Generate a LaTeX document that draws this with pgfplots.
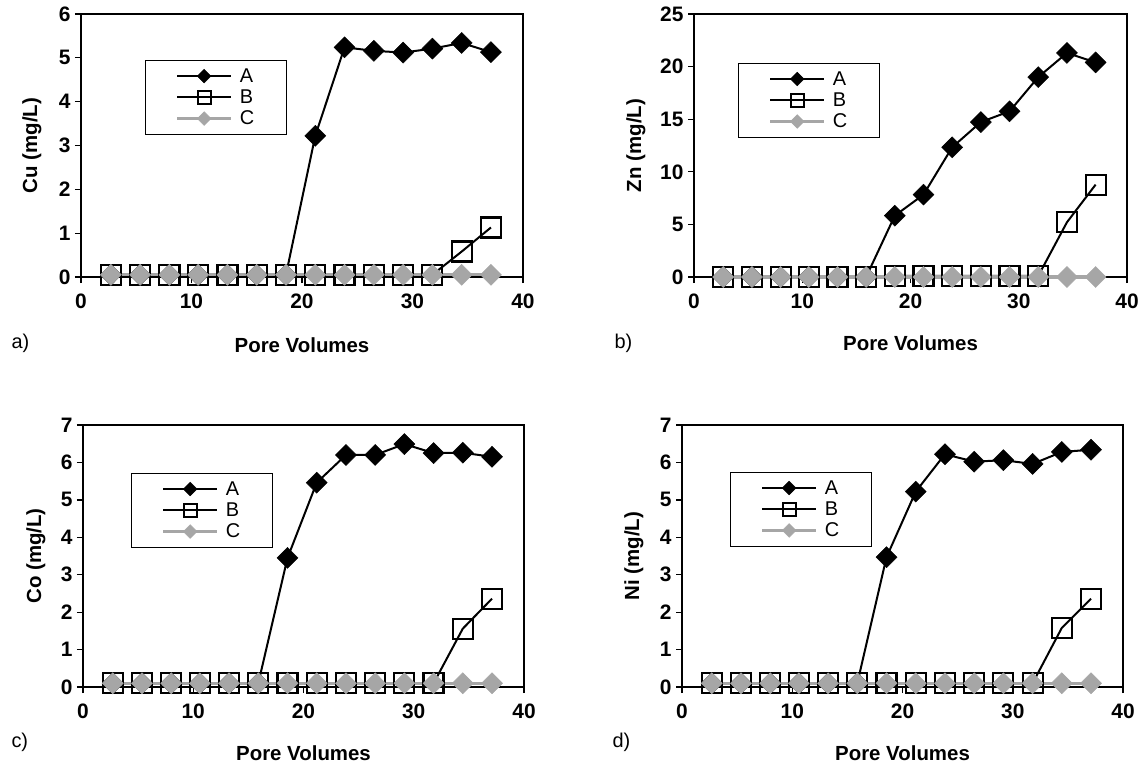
\documentclass[border=0pt]{standalone}
\usepackage{fontspec}
\setmainfont{Liberation Sans}
\usepackage{pgfplots}
\pgfplotsset{compat=1.18}
\definecolor{cgray}{RGB}{166,166,166}

\pgfplotsset{
 panel/.style={
  scale only axis, clip=false,
  xmin=0, xmax=40, xtick={0,10,20,30,40},
  axis line style={black, line width=1.3bp},
  every tick/.style={black, line width=1.3bp},
  major tick length=6bp, tick align=outside,
  xtick pos=left, ytick pos=left,
  tick label style={font=\bfseries\fontsize{21}{23}\selectfont},
  /pgf/number format/assume math mode=true,
  xticklabel style={yshift=-7bp},
  yticklabel style={xshift=-1bp},
  label style={font=\bfseries\fontsize{20.5}{23}\selectfont},
  legend cell align=left,
  legend style={draw=black, line width=1bp, anchor=north west, font=\fontsize{20}{22}\selectfont, inner xsep=30bp, inner ysep=6bp, row sep=2bp, column sep=5bp},
  legend image code/.code={\draw[mark repeat=2,mark phase=2,##1, every mark/.append style={scale=0.65}] plot coordinates {(0bp,0bp)(27bp,0bp)(54bp,0bp)};},
 },
 serA/.style={black, line width=2bp, mark=diamond*, mark size=10.5bp, mark options={xscale=1.333, fill=black, line width=0.5bp, solid}},
 serB/.style={black, line width=2bp, mark=square, mark size=10bp, mark options={line width=2.2bp, solid}},
 serC/.style={cgray, line width=3.2bp, mark=diamond*, mark size=10.5bp, mark options={xscale=1.333, fill=cgray, draw=cgray, line width=0.5bp, solid}},
}

\begin{document}
\begin{tikzpicture}
\useasboundingbox (0,0) rectangle (1144bp,-765bp);

% ---------- a) Cu
\begin{axis}[panel, at={(81bp,-277bp)}, anchor=south west, width=442bp, height=263bp,
  ymin=0, ymax=6, ytick={0,1,...,6},
  xlabel={Pore Volumes}, ylabel={Cu (mg/L)},
  xlabel style={at={(axis description cs:0.5,-0.259)}, anchor=center},
  ylabel style={at={(axis description cs:-0.111,0.5)}, anchor=center},
  legend style={at={(0.145,0.825)}}]
\addplot[serA] coordinates {(2.7,0.05)(5.35,0.05)(8.0,0.05)(10.6,0.05)(13.25,0.05)(15.9,0.05)(18.55,0.05)(21.2,3.22)(23.85,5.24)(26.5,5.16)(29.15,5.12)(31.8,5.21)(34.45,5.34)(37.1,5.13)};
\addplot[serB] coordinates {(2.7,0.05)(5.35,0.05)(8.0,0.05)(10.6,0.05)(13.25,0.05)(15.9,0.05)(18.55,0.05)(21.2,0.05)(23.85,0.05)(26.5,0.05)(29.15,0.05)(31.8,0.05)(34.45,0.58)(37.1,1.13)};
\addplot[serC] coordinates {(2.7,0.05)(5.35,0.05)(8.0,0.05)(10.6,0.05)(13.25,0.05)(15.9,0.05)(18.55,0.05)(21.2,0.05)(23.85,0.05)(26.5,0.05)(29.15,0.05)(31.8,0.05)(34.45,0.05)(37.1,0.05)};
\legend{A,B,C}
\end{axis}

% ---------- b) Zn
\begin{axis}[panel, at={(694bp,-277bp)}, anchor=south west, width=433bp, height=263bp,
  ymin=0, ymax=25, ytick={0,5,...,25},
  xlabel={Pore Volumes}, ylabel={Zn (mg/L)},
  xlabel style={at={(axis description cs:0.5,-0.251)}, anchor=center},
  ylabel style={at={(axis description cs:-0.134,0.5)}, anchor=center},
  legend style={at={(0.102,0.814)}}]
\addplot[serA] coordinates {(2.7,0)(5.35,0)(8.0,0)(10.6,0)(13.25,0)(15.9,0)(18.55,5.83)(21.2,7.83)(23.85,12.33)(26.5,14.73)(29.15,15.75)(31.8,19.0)(34.45,21.3)(37.1,20.4)};
\addplot[serB] coordinates {(2.7,0)(5.35,0)(8.0,0)(10.6,0)(13.25,0)(15.9,0)(18.55,0.1)(21.2,0.1)(23.85,0.1)(26.5,0.1)(29.15,0.1)(31.8,0.1)(34.45,5.2)(37.1,8.78)};
\addplot[serC] coordinates {(2.7,0)(5.35,0)(8.0,0)(10.6,0)(13.25,0)(15.9,0)(18.55,0)(21.2,0)(23.85,0)(26.5,0)(29.15,0)(31.8,0)(34.45,0)(37.1,0)};
\legend{A,B,C}
\end{axis}

% ---------- c) Co
\begin{axis}[panel, at={(83bp,-687bp)}, anchor=south west, width=441bp, height=262bp,
  ymin=0, ymax=7, ytick={0,1,...,7},
  xlabel={Pore Volumes}, ylabel={Co (mg/L)},
  xlabel style={at={(axis description cs:0.5,-0.252)}, anchor=center},
  ylabel style={at={(axis description cs:-0.107,0.5)}, anchor=center},
  legend style={at={(0.109,0.817)}}]
\addplot[serA] coordinates {(2.7,0.1)(5.35,0.1)(8.0,0.1)(10.6,0.1)(13.25,0.1)(15.9,0.1)(18.55,3.45)(21.2,5.46)(23.85,6.2)(26.5,6.2)(29.15,6.49)(31.8,6.25)(34.45,6.26)(37.1,6.15)};
\addplot[serB] coordinates {(2.7,0.1)(5.35,0.1)(8.0,0.1)(10.6,0.1)(13.25,0.1)(15.9,0.1)(18.55,0.1)(21.2,0.1)(23.85,0.1)(26.5,0.1)(29.15,0.1)(31.8,0.1)(34.45,1.56)(37.1,2.36)};
\addplot[serC] coordinates {(2.7,0.1)(5.35,0.1)(8.0,0.1)(10.6,0.1)(13.25,0.1)(15.9,0.1)(18.55,0.1)(21.2,0.1)(23.85,0.1)(26.5,0.1)(29.15,0.1)(31.8,0.1)(34.45,0.1)(37.1,0.1)};
\legend{A,B,C}
\end{axis}

% ---------- d) Ni
\begin{axis}[panel, at={(682bp,-687bp)}, anchor=south west, width=441bp, height=262bp,
  ymin=0, ymax=7, ytick={0,1,...,7},
  xlabel={Pore Volumes}, ylabel={Ni (mg/L)},
  xlabel style={at={(axis description cs:0.5,-0.252)}, anchor=center},
  ylabel style={at={(axis description cs:-0.109,0.5)}, anchor=center},
  legend style={at={(0.109,0.821)}}]
\addplot[serA] coordinates {(2.7,0.1)(5.35,0.1)(8.0,0.1)(10.6,0.1)(13.25,0.1)(15.9,0.1)(18.55,3.47)(21.2,5.22)(23.85,6.22)(26.5,6.02)(29.15,6.06)(31.8,5.96)(34.45,6.28)(37.1,6.34)};
\addplot[serB] coordinates {(2.7,0.1)(5.35,0.1)(8.0,0.1)(10.6,0.1)(13.25,0.1)(15.9,0.1)(18.55,0.1)(21.2,0.1)(23.85,0.1)(26.5,0.1)(29.15,0.1)(31.8,0.1)(34.45,1.58)(37.1,2.36)};
\addplot[serC] coordinates {(2.7,0.1)(5.35,0.1)(8.0,0.1)(10.6,0.1)(13.25,0.1)(15.9,0.1)(18.55,0.1)(21.2,0.1)(23.85,0.1)(26.5,0.1)(29.15,0.1)(31.8,0.1)(34.45,0.1)(37.1,0.1)};
\legend{A,B,C}
\end{axis}

\node[anchor=west, font=\fontsize{20}{22}\selectfont] at (8bp,-343bp) {a)};
\node[anchor=west, font=\fontsize{20}{22}\selectfont] at (611bp,-343bp) {b)};
\node[anchor=west, font=\fontsize{20}{22}\selectfont] at (8bp,-742bp) {c)};
\node[anchor=west, font=\fontsize{20}{22}\selectfont] at (609bp,-742bp) {d)};
\end{tikzpicture}
\end{document}
